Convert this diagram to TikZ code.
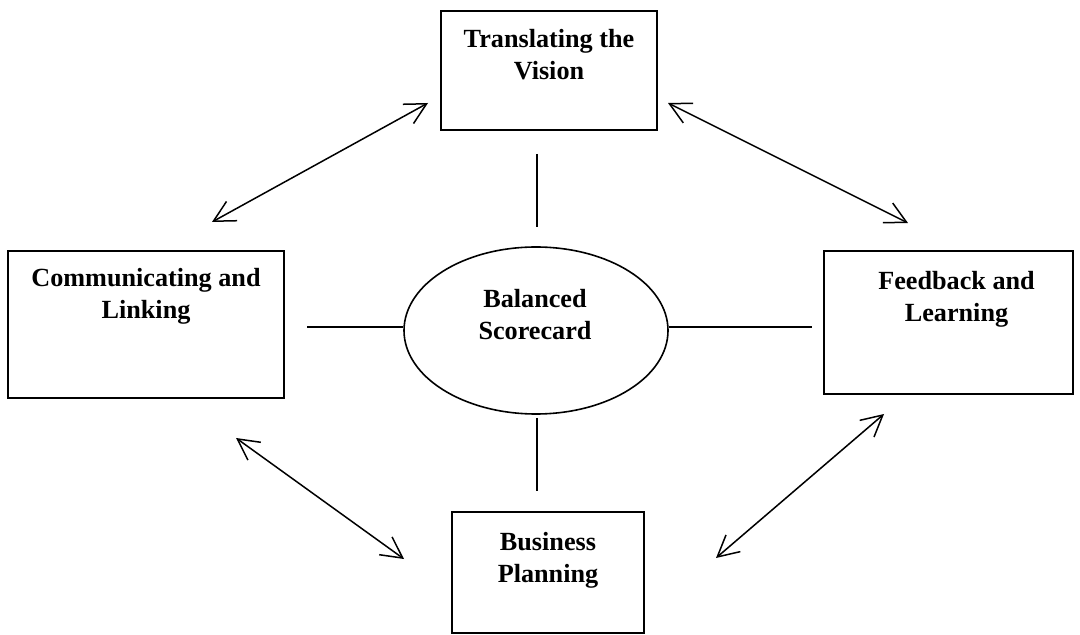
\documentclass[tikz,border=0pt]{standalone}
\usepackage{fontspec}
\setmainfont{Liberation Serif}
\usetikzlibrary{arrows.meta,shapes.geometric}

\tikzset{
	box/.style={draw, line width=1pt, inner sep=0pt},
	hub/.style={draw, ellipse, line width=0.8pt, inner sep=0pt, minimum width=132pt, minimum height=83.5pt},
	caption/.style={anchor=north, align=center, inner sep=0pt, font=\bfseries\fontsize{13.1pt}{15.75pt}\selectfont},
	link/.style={line width=0.8pt},
	twoway/.style={line width=0.75pt, {Straight Barb[length=10.5pt,width=11pt]}-{Straight Barb[length=10.5pt,width=11pt]}}
}

\begin{document}
\begin{tikzpicture}[x=0.5pt, y=-0.5pt]
		%%%%% START %%%%%
		\useasboundingbox (0, 0) rectangle (1080, 635);
		
		\node[box, minimum width=108pt, minimum height=59.5pt] (vision) at (549, 70.5) {};
		\node[box, minimum width=138pt, minimum height=73.5pt] (comm) at (146, 324.5) {};
		\node[box, minimum width=124.5pt, minimum height=71.5pt] (feed) at (948.5, 322.5) {};
		\node[box, minimum width=96pt, minimum height=60.5pt] (plan) at (548, 572.5) {};
		\node[hub] (bsc) at (536, 330.5) {};
		
		\node[caption] (vision-txt) at (549, 29) {Translating the\\Vision};
		\node[caption] (comm-txt) at (146, 268) {Communicating and\\Linking};
		\node[caption] (feed-txt) at (956.5, 271) {Feedback and\\Learning};
		\node[caption] (plan-txt) at (548, 532) {Business\\Planning};
		\node[caption] (bsc-txt) at (535, 289) {Balanced\\Scorecard};
		
		% spokes
		\coordinate (top-a) at (537, 154);
		\coordinate (top-b) at (537, 227);
		\coordinate (bot-a) at (537, 418);
		\coordinate (bot-b) at (537, 491);
		\coordinate (lft) at (307, 327);
		\coordinate (rgt) at (812, 327);
		\draw[link] (top-a) -- (top-b);
		\draw[link] (bot-a) -- (bot-b);
		\draw[link] (lft) -- (lft -| bsc.west);
		\draw[link] (bsc.east |- rgt) -- (rgt);
		
		% cycle arrows
		\coordinate (nw-a) at (428, 103);
		\coordinate (nw-b) at (212, 222);
		\coordinate (ne-a) at (668, 103);
		\coordinate (ne-b) at (908, 223);
		\coordinate (sw-a) at (236, 438);
		\coordinate (sw-b) at (404, 559);
		\coordinate (se-a) at (716, 558);
		\coordinate (se-b) at (884, 414);
		\draw[twoway] (nw-a) -- (nw-b);
		\draw[twoway] (ne-a) -- (ne-b);
		\draw[twoway] (sw-a) -- (sw-b);
		\draw[twoway] (se-a) -- (se-b);
		
		%%%%% END %%%%%
	\end{tikzpicture}
\end{document}
